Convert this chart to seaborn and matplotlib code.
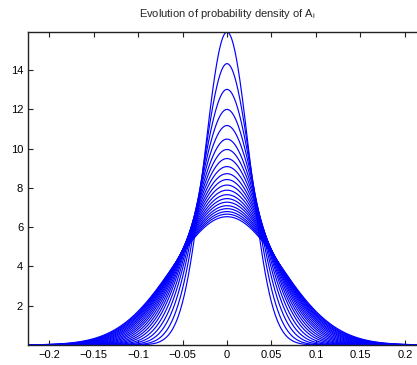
import numpy as np
import pandas as pd
import matplotlib
matplotlib.use("Agg")
import matplotlib.pyplot as plt
import seaborn as sns

# Peak heights of the density curves (tallest first)
peak_heights = [15.93, 14.32, 13.01, 11.99, 11.17, 10.48, 9.95, 9.49, 9.08,
                8.72, 8.42, 8.14, 7.88, 7.65, 7.45, 7.27, 7.09, 6.94, 6.79,
                6.66, 6.53]
x_ticks = [-0.2, -0.15, -0.1, -0.05, 0, 0.05, 0.1, 0.15, 0.2]
x_tick_labels = ["\u22120.2", "\u22120.15", "\u22120.1", "\u22120.05", "0",
                 "0.05", "0.1", "0.15", "0.2"]
y_ticks = [2, 4, 6, 8, 10, 12, 14]
title = "Evolution of probability density of A$_\\mathregular{i}$"

xlim = (-0.2236, 0.2236)
x = np.linspace(xlim[0], xlim[1], 801)
rows = []
for k, p in enumerate(peak_heights):
    sigma = 1.0 / (p * np.sqrt(2 * np.pi))
    d = np.exp(-x**2 / (2 * sigma**2)) / (sigma * np.sqrt(2 * np.pi))
    rows.append(pd.DataFrame({"x": x, "density": d, "curve": k}))
df = pd.concat(rows, ignore_index=True)

sns.set_style("ticks")
plt.rcParams["font.family"] = ["Liberation Sans", "DejaVu Sans"]
plt.rcParams["mathtext.fontset"] = "custom"
plt.rcParams["mathtext.rm"] = "Liberation Sans"

fig = plt.figure(figsize=(4.17, 3.65), dpi=100)
ax = fig.add_axes([28 / 417, 20 / 365, 398 / 417, 313 / 365])
sns.lineplot(data=df, x="x", y="density", units="curve", estimator=None,
             color=(0, 0, 1), linewidth=0.85, ax=ax, legend=False)
ax.set_xlim(*xlim)
ax.set_ylim(0, max(peak_heights))
ax.set_xticks(x_ticks)
ax.set_xticklabels(x_tick_labels)
ax.set_yticks(y_ticks)
ax.set_xlabel("")
ax.set_ylabel("")
ax.tick_params(direction="in", length=3.5, width=0.8, labelsize=8,
               top=True, right=True, colors="#222222", labelcolor="black")
for s in ax.spines.values():
    s.set_linewidth(1.0)
    s.set_color("#222222")
ax.set_title(title, fontsize=8, pad=11)
fig.savefig("out.png", dpi=100)
